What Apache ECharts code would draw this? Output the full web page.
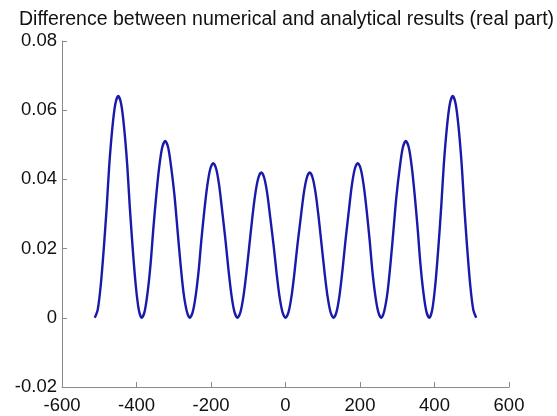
<!DOCTYPE html>
<html>
<head>
<meta charset="utf-8">
<script src="https://cdn.jsdelivr.net/npm/echarts@6/dist/echarts.min.js"></script>
<style>html,body{margin:0;padding:0;background:#fff;}#c{width:557px;height:416px;}</style>
</head>
<body>
<div id="c"></div>
<script>
const titleText = 'Difference between numerical and analytical results (real part)';
const xTicks = [-600, -400, -200, 0, 200, 400, 600];
const yTicks = [-0.02, 0, 0.02, 0.04, 0.06, 0.08];
const xValues = [
  -512, -504, -496, -488, -480, -473, -465, -457, -449,
  -441, -433, -425, -418, -410, -402, -394, -386,
  -378, -370, -362, -355, -347, -339, -331, -323,
  -315, -307, -298, -290, -282, -274, -265, -257,
  -249, -241, -233, -226, -218, -210, -202, -194,
  -186, -178, -170, -161, -153, -145, -137, -129,
  -121, -113, -105, -97, -89, -81, -73, -65,
  -57, -49, -41, -32, -24, -16, -8, 0,
  8, 16, 24, 32, 41, 49, 57, 65,
  73, 81, 89, 97, 105, 113, 121, 129,
  137, 145, 153, 161, 170, 178, 186, 194,
  202, 210, 218, 226, 233, 241, 249, 257,
  265, 274, 282, 290, 298, 307, 315, 323,
  331, 339, 347, 355, 362, 370, 378, 386,
  394, 402, 410, 418, 425, 433, 441, 449,
  457, 465, 473, 480, 488, 496, 504, 512
];
const yValues = [
  0, 0.0024, 0.0094, 0.0198, 0.0320, 0.0443, 0.0547, 0.0617, 0.0641,
  0.0617, 0.0547, 0.0443, 0.0320, 0.0198, 0.0094, 0.0024, 0,
  0.0019, 0.0075, 0.0158, 0.0255, 0.0353, 0.0436, 0.0492, 0.0511,
  0.0492, 0.0436, 0.0353, 0.0255, 0.0158, 0.0075, 0.0019, 0,
  0.0017, 0.0065, 0.0138, 0.0223, 0.0309, 0.0382, 0.0430, 0.0447,
  0.0430, 0.0382, 0.0309, 0.0223, 0.0138, 0.0065, 0.0017, 0,
  0.0016, 0.0061, 0.0130, 0.0210, 0.0290, 0.0359, 0.0404, 0.0420,
  0.0404, 0.0359, 0.0290, 0.0210, 0.0130, 0.0061, 0.0016, 0,
  0.0016, 0.0061, 0.0130, 0.0210, 0.0290, 0.0359, 0.0404, 0.0420,
  0.0404, 0.0359, 0.0290, 0.0210, 0.0130, 0.0061, 0.0016, 0,
  0.0017, 0.0065, 0.0138, 0.0223, 0.0309, 0.0382, 0.0430, 0.0447,
  0.0430, 0.0382, 0.0309, 0.0223, 0.0138, 0.0065, 0.0017, 0,
  0.0019, 0.0075, 0.0158, 0.0255, 0.0353, 0.0436, 0.0492, 0.0511,
  0.0492, 0.0436, 0.0353, 0.0255, 0.0158, 0.0075, 0.0019, 0,
  0.0024, 0.0094, 0.0198, 0.0320, 0.0443, 0.0547, 0.0617, 0.0641,
  0.0617, 0.0547, 0.0443, 0.0320, 0.0198, 0.0094, 0.0024, 0
];

const chart = echarts.init(document.getElementById('c'), null, {renderer: 'canvas'});
const font = 'Liberation Sans, Arial, Helvetica, sans-serif';
const axisColor = '#8a8a8a';
chart.setOption({
  animation: false,
  backgroundColor: '#fff',
  title: {
    text: titleText,
    left: 14, top: 5,
    textStyle: {fontFamily: font, fontSize: 19.5, fontWeight: 'normal', color: '#111'}
  },
  grid: {left: 62, right: 48, top: 41, bottom: 29, containLabel: false},
  xAxis: {
    type: 'value',
    min: xTicks[0], max: xTicks[xTicks.length - 1], interval: 200,
    axisLine: {show: true, onZero: false, lineStyle: {color: axisColor, width: 1}},
    axisTick: {show: true, inside: true, length: 5, lineStyle: {color: axisColor}},
    splitLine: {show: false},
    axisLabel: {fontFamily: font, fontSize: 18.5, color: '#111', margin: 9}
  },
  yAxis: {
    type: 'value',
    min: yTicks[0], max: yTicks[yTicks.length - 1], interval: 0.02,
    axisLine: {show: true, onZero: false, lineStyle: {color: axisColor, width: 1}},
    axisTick: {show: true, inside: true, length: 5, lineStyle: {color: axisColor}},
    splitLine: {show: false},
    axisLabel: {fontFamily: font, fontSize: 18.5, color: '#111', margin: 5,
      formatter: v => (Math.abs(v) < 1e-9 ? '0' : v.toFixed(2))}
  },
  series: [{
    type: 'line',
    data: xValues.map((x, i) => [x, yValues[i]]),
    smooth: 0.3,
    showSymbol: false,
    lineStyle: {color: '#1a1aaa', width: 2.4},
    itemStyle: {color: '#1a1aaa'}
  }]
});
</script>
</body>
</html>
